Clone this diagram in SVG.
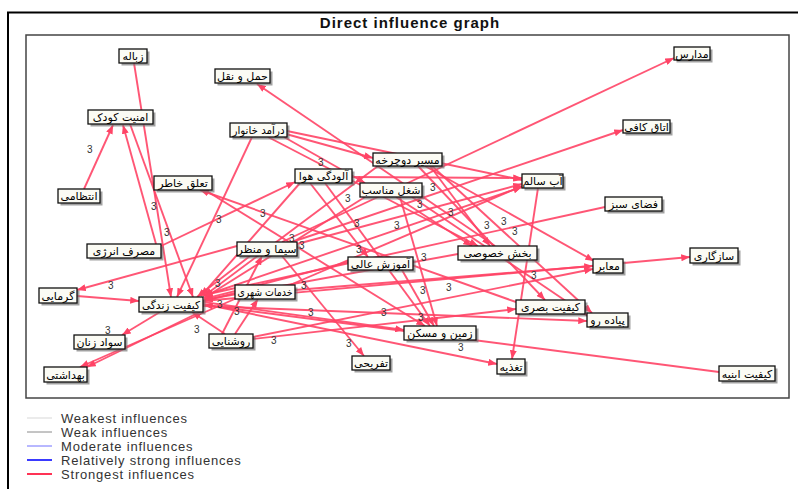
<svg xmlns="http://www.w3.org/2000/svg" width="798" height="489" viewBox="0 0 798 489">
<defs>
<style>
.sh{fill:#6e6e6e;opacity:.65}
.bx{fill:#fbfbf4;stroke:#111;stroke-width:1.3}
.nt{font-family:"DejaVu Sans",sans-serif;font-size:11px;text-anchor:middle;fill:#000}
.e{stroke:#ff4466;stroke-width:1.8;stroke-opacity:.9;fill:none}
.ea{stroke:#ff4466;stroke-width:1.9;stroke-opacity:.9;fill:none;marker-end:url(#ah)}
.w{font-family:"Liberation Sans",Arial,sans-serif;font-size:10px;fill:#333}
.lg{font-family:"Liberation Sans",Arial,sans-serif;font-size:13px;fill:#333;letter-spacing:.8px}
</style>
<marker id="ah" viewBox="0 0 10 8" refX="10" refY="4" markerWidth="9" markerHeight="7" markerUnits="userSpaceOnUse" orient="auto"><path d="M0,0 L10,4 L0,8 z" fill="#ff4466"/></marker>
</defs>
<rect x="0" y="0" width="798" height="489" fill="#fff"/>
<g id="frame">
<line x1="7" y1="12.5" x2="798" y2="12.5" stroke="#000" stroke-width="2"/>
<line x1="8" y1="12" x2="8" y2="489" stroke="#000" stroke-width="2"/>
<rect x="26" y="35" width="763" height="363" fill="none" stroke="#444" stroke-width="1.5"/>
<text x="410" y="28" font-family="Liberation Sans, Arial, sans-serif" font-size="15" font-weight="bold" letter-spacing="1" text-anchor="middle" fill="#111">Direct influence graph</text>
</g>
<g id="connectors">
<line class="ea" x1="134" y1="63" x2="171" y2="297"/>
<line class="ea" x1="84" y1="189" x2="113" y2="125"/>
<line class="ea" x1="156" y1="244" x2="123" y2="125"/>
<line class="ea" x1="130" y1="124" x2="193" y2="297"/>
<line class="ea" x1="495" y1="246" x2="257" y2="84"/>
<line class="ea" x1="252" y1="137" x2="177" y2="297"/>
<line class="ea" x1="268" y1="137" x2="478" y2="246"/>
<line class="ea" x1="284" y1="137" x2="365" y2="183"/>
<line class="ea" x1="287" y1="131" x2="522" y2="180"/>
<line class="ea" x1="286" y1="134" x2="373" y2="158"/>
<line class="ea" x1="282" y1="242" x2="674" y2="58"/>
<line class="ea" x1="292" y1="242" x2="623" y2="130"/>
<line class="ea" x1="352" y1="177" x2="522" y2="178"/>
<line class="ea" x1="538" y1="188" x2="512" y2="359"/>
<line class="ea" x1="605" y1="207" x2="204" y2="295"/>
<line class="ea" x1="203" y1="301" x2="690" y2="257"/>
<line class="ea" x1="719" y1="372" x2="204" y2="305"/>
<line class="ea" x1="203" y1="304" x2="497" y2="364"/>
<line class="ea" x1="282" y1="256" x2="364" y2="356"/>
<line class="ea" x1="402" y1="270" x2="434" y2="326"/>
<line class="ea" x1="325" y1="183" x2="430" y2="326"/>
<line class="ea" x1="400" y1="197" x2="437" y2="326"/>
<line class="ea" x1="203" y1="302" x2="404" y2="330"/>
<line class="ea" x1="253" y1="339" x2="516" y2="309"/>
<line class="ea" x1="516" y1="302" x2="200" y2="190"/>
<line class="ea" x1="425" y1="166" x2="594" y2="261"/>
<line class="ea" x1="432" y1="166" x2="592" y2="313"/>
<line class="ea" x1="412" y1="197" x2="588" y2="316"/>
<line class="ea" x1="418" y1="166" x2="545" y2="300"/>
<line class="ea" x1="396" y1="197" x2="472" y2="246"/>
<line class="ea" x1="203" y1="306" x2="587" y2="321"/>
<line class="ea" x1="295" y1="290" x2="593" y2="266"/>
<line class="ea" x1="290" y1="285" x2="522" y2="186"/>
<line class="ea" x1="203" y1="296" x2="522" y2="187"/>
<line class="ea" x1="297" y1="244" x2="522" y2="184"/>
<line class="ea" x1="300" y1="183" x2="201" y2="296"/>
<line class="ea" x1="378" y1="166" x2="204" y2="296"/>
<line class="ea" x1="365" y1="197" x2="204" y2="298"/>
<line class="ea" x1="348" y1="262" x2="204" y2="299"/>
<line class="ea" x1="458" y1="254" x2="204" y2="300"/>
<line class="ea" x1="235" y1="293" x2="204" y2="301"/>
<line class="ea" x1="250" y1="256" x2="197" y2="297"/>
<line class="ea" x1="225" y1="334" x2="192" y2="312"/>
<line class="ea" x1="160" y1="312" x2="122" y2="335"/>
<line class="ea" x1="200" y1="312" x2="87" y2="367"/>
<line class="ea" x1="237" y1="298" x2="80" y2="367"/>
<line class="ea" x1="237" y1="246" x2="77" y2="290"/>
<line class="ea" x1="77" y1="296" x2="139" y2="301"/>
<line class="ea" x1="161" y1="246" x2="295" y2="182"/>
<line class="ea" x1="205" y1="190" x2="425" y2="326"/>
<line class="ea" x1="253" y1="337" x2="593" y2="269"/>
<line class="ea" x1="310" y1="183" x2="368" y2="257"/>
<line class="ea" x1="222" y1="334" x2="262" y2="256"/>
<line class="ea" x1="235" y1="334" x2="258" y2="299"/>
<line class="ea" x1="430" y1="166" x2="490" y2="246"/>
</g>
<g id="weights">
<text class="w" x="87" y="153">3</text>
<text class="w" x="151" y="210">3</text>
<text class="w" x="164" y="236">3</text>
<text class="w" x="216" y="223">3</text>
<text class="w" x="260" y="217">3</text>
<text class="w" x="318" y="166">3</text>
<text class="w" x="345" y="202">3</text>
<text class="w" x="430" y="191">3</text>
<text class="w" x="417" y="208">3</text>
<text class="w" x="448" y="216">3</text>
<text class="w" x="394" y="229">3</text>
<text class="w" x="354" y="227">3</text>
<text class="w" x="484" y="229">3</text>
<text class="w" x="501" y="225">3</text>
<text class="w" x="512" y="235">3</text>
<text class="w" x="289" y="242">3</text>
<text class="w" x="299" y="249">3</text>
<text class="w" x="356" y="253">3</text>
<text class="w" x="421" y="261">3</text>
<text class="w" x="531" y="279">3</text>
<text class="w" x="446" y="291">3</text>
<text class="w" x="420" y="294">3</text>
<text class="w" x="301" y="289">3</text>
<text class="w" x="308" y="316">3</text>
<text class="w" x="381" y="316">3</text>
<text class="w" x="418" y="321">3</text>
<text class="w" x="271" y="344">3</text>
<text class="w" x="346" y="347">3</text>
<text class="w" x="458" y="351">3</text>
<text class="w" x="108" y="289">3</text>
<text class="w" x="215" y="287">3</text>
<text class="w" x="217" y="308">3</text>
<text class="w" x="234" y="315">3</text>
<text class="w" x="105" y="334">3</text>
<text class="w" x="194" y="333">3</text>
</g>
<g id="n-zobaleh"><rect class="sh" x="121.5" y="51.5" width="28" height="14"/><rect class="bx" x="119" y="49" width="28" height="14"/><text class="nt" x="133" y="60">زباله</text></g>
<g id="n-haml"><rect class="sh" x="217.5" y="71.5" width="55" height="14"/><rect class="bx" x="215" y="69" width="55" height="14"/><text class="nt" x="242.5" y="80">حمل و نقل</text></g>
<g id="n-amniat"><rect class="sh" x="90.5" y="112.5" width="65" height="14"/><rect class="bx" x="88" y="110" width="65" height="14"/><text class="nt" x="120.5" y="121">امنیت کودک</text></g>
<g id="n-daramad"><rect class="sh" x="232.5" y="125.5" width="57" height="14"/><rect class="bx" x="230" y="123" width="57" height="14"/><text class="nt" x="258.5" y="134" textLength="52" lengthAdjust="spacingAndGlyphs">درآمد خانوار</text></g>
<g id="n-madares"><rect class="sh" x="676.5" y="49.5" width="36" height="13"/><rect class="bx" x="674" y="47" width="36" height="13"/><text class="nt" x="692" y="57.5">مدارس</text></g>
<g id="n-otagh"><rect class="sh" x="625.5" y="122.5" width="47" height="13"/><rect class="bx" x="623" y="120" width="47" height="13"/><text class="nt" x="646.5" y="130.5">اتاق کافی</text></g>
<g id="n-entezami"><rect class="sh" x="60.5" y="191.5" width="42" height="14"/><rect class="bx" x="58" y="189" width="42" height="14"/><text class="nt" x="79" y="200">انتظامی</text></g>
<g id="n-taalogh"><rect class="sh" x="156.5" y="178.5" width="58" height="14"/><rect class="bx" x="154" y="176" width="58" height="14"/><text class="nt" x="183" y="187">تعلق خاطر</text></g>
<g id="n-masraf"><rect class="sh" x="89.5" y="246.5" width="74" height="14"/><rect class="bx" x="87" y="244" width="74" height="14"/><text class="nt" x="124" y="255">مصرف انرژی</text></g>
<g id="n-sima"><rect class="sh" x="239.5" y="244.5" width="60" height="14"/><rect class="bx" x="237" y="242" width="60" height="14"/><text class="nt" x="267" y="253">سیما و منظر</text></g>
<g id="n-aloodegi"><rect class="sh" x="297.5" y="171.5" width="57" height="14"/><rect class="bx" x="295" y="169" width="57" height="14"/><text class="nt" x="323.5" y="180">آلودگی هوا</text></g>
<g id="n-masir"><rect class="sh" x="375.5" y="155.5" width="69" height="13"/><rect class="bx" x="373" y="153" width="69" height="13"/><text class="nt" x="407.5" y="163.5">مسیر دوچرخه</text></g>
<g id="n-shoghl"><rect class="sh" x="362.5" y="185.5" width="62" height="14"/><rect class="bx" x="360" y="183" width="62" height="14"/><text class="nt" x="391" y="194">شغل مناسب</text></g>
<g id="n-ab"><rect class="sh" x="524.5" y="176.5" width="41" height="14"/><rect class="bx" x="522" y="174" width="41" height="14"/><text class="nt" x="542.5" y="185">آب سالم</text></g>
<g id="n-bakhsh"><rect class="sh" x="460.5" y="248.5" width="79" height="14"/><rect class="bx" x="458" y="246" width="79" height="14"/><text class="nt" x="497.5" y="257">بخش خصوصی</text></g>
<g id="n-amoozesh"><rect class="sh" x="350.5" y="259.5" width="65" height="13"/><rect class="bx" x="348" y="257" width="65" height="13"/><text class="nt" x="380.5" y="267.5">آموزش عالی</text></g>
<g id="n-faza"><rect class="sh" x="607.5" y="199.5" width="57" height="14"/><rect class="bx" x="605" y="197" width="57" height="14"/><text class="nt" x="633.5" y="208">فضای سبز</text></g>
<g id="n-sazegari"><rect class="sh" x="692.5" y="250.5" width="48" height="15"/><rect class="bx" x="690" y="248" width="48" height="15"/><text class="nt" x="714" y="259.5">سازگاری</text></g>
<g id="n-maaber"><rect class="sh" x="595.5" y="261.5" width="30" height="14"/><rect class="bx" x="593" y="259" width="30" height="14"/><text class="nt" x="608" y="270">معابر</text></g>
<g id="n-garmayi"><rect class="sh" x="41.5" y="290.5" width="38" height="15"/><rect class="bx" x="39" y="288" width="38" height="15"/><text class="nt" x="58" y="299.5">گرمایی</text></g>
<g id="n-keyfiat"><rect class="sh" x="141.5" y="299.5" width="64" height="15"/><rect class="bx" x="139" y="297" width="64" height="15"/><text class="nt" x="171" y="308.5" textLength="58" lengthAdjust="spacingAndGlyphs">کیفیت زندگی</text></g>
<g id="n-savad"><rect class="sh" x="76.5" y="337.5" width="51" height="14"/><rect class="bx" x="74" y="335" width="51" height="14"/><text class="nt" x="99.5" y="346">سواد زنان</text></g>
<g id="n-behdashti"><rect class="sh" x="46.5" y="369.5" width="43" height="15"/><rect class="bx" x="44" y="367" width="43" height="15"/><text class="nt" x="65.5" y="378.5">بهداشتی</text></g>
<g id="n-roshanayi"><rect class="sh" x="211.5" y="336.5" width="44" height="14"/><rect class="bx" x="209" y="334" width="44" height="14"/><text class="nt" x="231" y="345">روشنایی</text></g>
<g id="n-khadamat"><rect class="sh" x="237.5" y="287.5" width="60" height="14"/><rect class="bx" x="235" y="285" width="60" height="14"/><text class="nt" x="265" y="296" textLength="55" lengthAdjust="spacingAndGlyphs">خدمات شهری</text></g>
<g id="n-tafrihi"><rect class="sh" x="354.5" y="358.5" width="38" height="14"/><rect class="bx" x="352" y="356" width="38" height="14"/><text class="nt" x="371" y="367">تفریحی</text></g>
<g id="n-zamin"><rect class="sh" x="406.5" y="328.5" width="72" height="14"/><rect class="bx" x="404" y="326" width="72" height="14"/><text class="nt" x="440" y="337">زمین و مسکن</text></g>
<g id="n-taghzieh"><rect class="sh" x="499.5" y="361.5" width="28" height="15"/><rect class="bx" x="497" y="359" width="28" height="15"/><text class="nt" x="511" y="370.5">تغذیه</text></g>
<g id="n-basari"><rect class="sh" x="518.5" y="302.5" width="69" height="14"/><rect class="bx" x="516" y="300" width="69" height="14"/><text class="nt" x="550.5" y="311">کیفیت بصری</text></g>
<g id="n-piadeh"><rect class="sh" x="589.5" y="315.5" width="41" height="14"/><rect class="bx" x="587" y="313" width="41" height="14"/><text class="nt" x="607.5" y="324">پیاده رو</text></g>
<g id="n-abnieh"><rect class="sh" x="721.5" y="368.5" width="56" height="15"/><rect class="bx" x="719" y="366" width="56" height="15"/><text class="nt" x="747" y="377.5">کیفیت ابنیه</text></g>
<g id="legend">
<line x1="27" y1="418" x2="52" y2="418" stroke="#e4e4e4" stroke-width="1.5"/>
<line x1="27" y1="432" x2="52" y2="432" stroke="#8a8a8a" stroke-width="1"/>
<line x1="27" y1="446" x2="52" y2="446" stroke="#7070ff" stroke-width="1"/>
<line x1="27" y1="460" x2="52" y2="460" stroke="#3a3aff" stroke-width="2"/>
<line x1="27" y1="474" x2="52" y2="474" stroke="#ff3355" stroke-width="2"/>
<text class="lg" x="61" y="423">Weakest influences</text>
<text class="lg" x="61" y="437">Weak influences</text>
<text class="lg" x="61" y="451">Moderate influences</text>
<text class="lg" x="61" y="465">Relatively strong influences</text>
<text class="lg" x="61" y="479">Strongest influences</text>
</g>
</svg>
